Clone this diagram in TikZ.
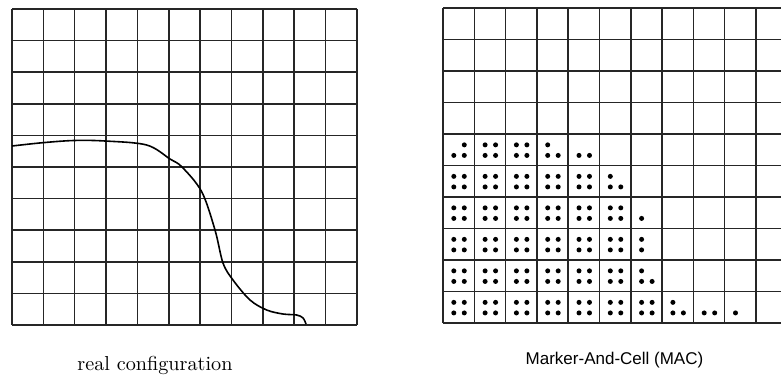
\documentclass[tikz,border=0pt]{standalone}
\usepackage{fontspec}
\newfontfamily\macfont{Liberation Sans}
\begin{document}
\begin{tikzpicture}[x=1pt,y=-1pt,
  gridline/.style={line width=1.5pt,black!85},
  curveline/.style={line width=1.6pt,black},
  particle/.style={fill=black}]
\useasboundingbox (0,0) rectangle (781,377);
% ---------- left grid ----------
\def\LX{12}\def\LDX{31.36}\def\LY{9}\def\LDY{31.6}
\foreach \i in {0,...,11}{
  \draw[gridline] (\LX+\i*\LDX,\LY) -- (\LX+\i*\LDX,\LY+10*\LDY);
}
\foreach \j in {0,...,10}{
  \draw[gridline] (\LX,\LY+\j*\LDY) -- (\LX+11*\LDX,\LY+\j*\LDY);
}
\draw[curveline] plot[smooth,tension=0.55] coordinates {
  (12,146) (42.7,142.7) (74,140.5) (105,141) (146.7,145) (170,159)
  (182,167) (201.7,191.7) (215,230) (223,263) (233,280) (250,300)
  (266.7,310) (283,314) (296.7,315) (303,318) (306,324)};
\node[anchor=base,inner sep=0pt,font=\normalsize,scale=2.02] (lbl1) at (155,370) {real configuration};
% ---------- right grid ----------
\def\RX{443}\def\RDX{31.3}\def\RY{8}\def\RDY{31.5}
\begin{scope}
\clip (0,0) rectangle (781,377);
\foreach \i in {0,...,10}{
  \draw[gridline] (\RX+\i*\RDX,\RY) -- (\RX+\i*\RDX,\RY+10*\RDY);
}
\foreach \j in {0,...,10}{
  \draw[gridline] (\RX,\RY+\j*\RDY) -- (790,\RY+\j*\RDY);
}
\end{scope}
\def\pa{0.345}\def\pb{0.68}
\newcommand\mdot[4]{\fill[particle] (\RX+#1*\RDX+#3*\RDX,\RY+#2*\RDY+#4*\RDY) circle (2.5);}
\newcommand\mfour[2]{\mdot{#1}{#2}{\pa}{\pa}\mdot{#1}{#2}{\pb}{\pa}\mdot{#1}{#2}{\pa}{\pb}\mdot{#1}{#2}{\pb}{\pb}}
% full cells
\foreach \c in {1,2}{\mfour{\c}{4}}
\foreach \c in {0,...,4}{\mfour{\c}{5}}
\foreach \r in {6,7,8}{\foreach \c in {0,...,5}{\mfour{\c}{\r}}}
\foreach \c in {0,...,6}{\mfour{\c}{9}}
% partial cells
\mdot{0}{4}{\pb}{\pa}\mdot{0}{4}{\pa}{\pb}\mdot{0}{4}{\pb}{\pb}
\mdot{3}{4}{\pa}{\pa}\mdot{3}{4}{\pa}{\pb}\mdot{3}{4}{\pb}{\pb}
\mdot{4}{4}{\pa}{\pb}\mdot{4}{4}{\pb}{\pb}
\mdot{5}{5}{\pa}{\pa}\mdot{5}{5}{\pa}{\pb}\mdot{5}{5}{\pb}{\pb}
\mdot{6}{6}{\pa}{\pb}
\mdot{6}{7}{\pa}{\pa}\mdot{6}{7}{\pa}{\pb}
\mdot{6}{8}{\pa}{\pa}\mdot{6}{8}{\pa}{\pb}\mdot{6}{8}{\pb}{\pb}
\mdot{7}{9}{\pa}{\pa}\mdot{7}{9}{\pa}{\pb}\mdot{7}{9}{\pb}{\pb}
\mdot{8}{9}{\pa}{\pb}\mdot{8}{9}{\pb}{\pb}
\mdot{9}{9}{\pa}{\pb}
\node[anchor=base,inner sep=0pt,font=\macfont\fontsize{17}{19}\selectfont] (lbl2) at (614.5,364) {Marker-And-Cell (MAC)};
\end{tikzpicture}
\end{document}
